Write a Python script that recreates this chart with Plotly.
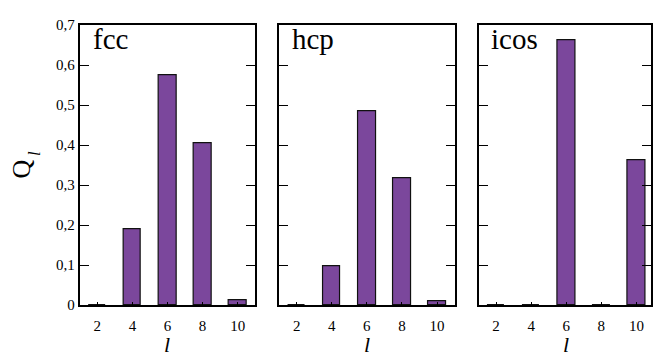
import plotly.graph_objects as go

# Steinhardt bond-order parameters Q_l for ideal clusters
l_values = [2, 4, 6, 8, 10]
structures = ["fcc", "hcp", "icos"]
q_fcc = [0.0, 0.191, 0.575, 0.404, 0.013]
q_hcp = [0.0, 0.097, 0.485, 0.317, 0.010]
q_icos = [0.0, 0.0, 0.663, 0.0, 0.363]
series = [q_fcc, q_hcp, q_icos]

y_ticks = [0, 0.1, 0.2, 0.3, 0.4, 0.5, 0.6, 0.7]
y_tick_text = ["0", "0,1", "0,2", "0,3", "0,4", "0,5", "0,6", "0,7"]

W, H = 653, 358
BAR_COLOR = "#7b479c"
FONT = "Liberation Serif"

# panel pixel extents (left, right); the last panel is cut by the page edge
panels_px = [(80, 256), (280, 456), (480, 656)]
px_per_unit = 17.6
y_bot, y_top = (H - 311) / H, (H - 18) / H

fig = go.Figure()
annotations = []
axes = {}

for i, (name, vals) in enumerate(zip(structures, series)):
    n = i + 1
    xa = "x" if n == 1 else f"x{n}"
    ya = "y" if n == 1 else f"y{n}"
    suffix = "" if n == 1 else str(n)
    left, right = panels_px[i]
    vis_right = min(right, W)
    x_max = 1 + (vis_right - left) / px_per_unit

    fig.add_trace(go.Bar(
        x=l_values, y=vals, width=1.0, xaxis=xa, yaxis=ya,
        marker=dict(color=BAR_COLOR, line=dict(color="#111111", width=1.2)),
        showlegend=False,
    ))

    axes["xaxis" + suffix] = dict(
        domain=[left / W, vis_right / W], range=[1, x_max], anchor=ya,
        tickvals=l_values, ticks="inside", ticklen=3, tickwidth=1,
        tickcolor="black", showgrid=False, zeroline=False,
        showline=True, linecolor="black", linewidth=2, mirror=True,
        ticklabelstandoff=6,
        tickfont=dict(family=FONT, size=15, color="black"),
    )
    axes["yaxis" + suffix] = dict(
        domain=[y_bot, y_top], range=[0, 0.7], anchor=xa,
        tickvals=y_ticks, ticktext=y_tick_text, ticks="inside", ticklen=9,
        tickwidth=1.2, tickcolor="black",
        showline=True, linecolor="black", linewidth=2, mirror="ticks",
        showgrid=False, zeroline=False, showticklabels=(n == 1),
        tickfont=dict(family=FONT, size=15, color="black"),
    )

    # structure label
    annotations.append(dict(
        text=name, xref="paper", yref="paper", x=(left + 11) / W, y=(H - 14) / H,
        xanchor="left", yanchor="top", showarrow=False,
        font=dict(family=FONT, size=29, color="black"),
    ))
    # x-axis title
    annotations.append(dict(
        text="l", xref="paper", yref="paper", x=(left + 88) / W,
        y=(H - 352) / H, xanchor="center", yanchor="middle", showarrow=False,
        font=dict(family=FONT, size=22, color="black", style="italic"),
    ))

# y-axis title: Q with italic subscript l
annotations.append(dict(
    text="Q", xref="paper", yref="paper", x=22 / W,
    y=(H - 168) / H, xanchor="center", yanchor="middle", textangle=-90,
    showarrow=False, font=dict(family=FONT, size=26, color="black"),
))
annotations.append(dict(
    text="l", xref="paper", yref="paper", x=34 / W,
    y=(H - 152) / H, xanchor="center", yanchor="middle", textangle=-90,
    showarrow=False, font=dict(family=FONT, size=17, color="black", style="italic"),
))

fig.update_layout(
    width=W, height=H, margin=dict(l=0, r=0, t=0, b=0),
    plot_bgcolor="white",
    annotations=annotations, bargap=0, **axes,
)

fig.write_html("out.html")
